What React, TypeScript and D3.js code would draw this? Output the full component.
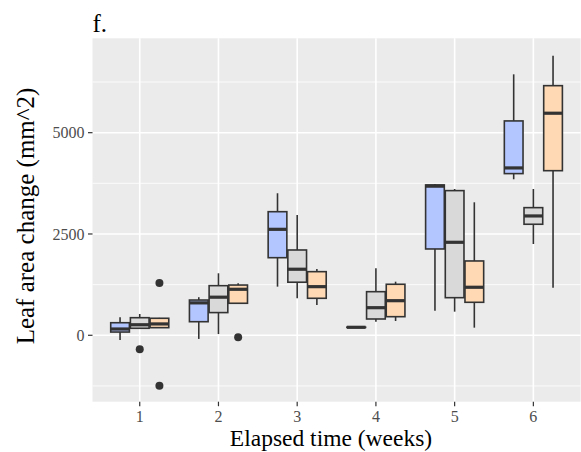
import React from "react";
import * as d3 from "d3";

// weeks on the x axis, three groups dodged inside each week
const weeks = ["1", "2", "3", "4", "5", "6"];
const groups = ["a", "b", "c"];
const groupFill = ["#B3C6FF", "#D9D9D9", "#FFD9B3"];

// [lower whisker, Q1, median, Q3, upper whisker] per week
const statsA = [
  [-115, 80, 155, 310, 445],
  [-90, 335, 800, 870, 940],
  [1200, 1915, 2615, 3050, 3505],
  [190, 195, 197, 200, 205],
  [607, 2130, 3680, 3710, 3735],
  [3850, 3990, 4130, 5290, 6440],
];
const statsB = [
  [173, 173, 260, 434, 526],
  [30, 560, 940, 1225, 1530],
  [915, 1310, 1630, 2105, 2970],
  [336, 402, 681, 1076, 1654],
  [583, 928, 2295, 3570, 3610],
  [2253, 2740, 2945, 3150, 3610],
];
const statsC = [
  [188, 188, 280, 420, 430],
  [790, 790, 1135, 1240, 1285],
  [750, 913, 1200, 1570, 1635],
  [353, 459, 854, 1259, 1323],
  [188, 814, 1185, 1834, 3282],
  [1175, 4062, 5480, 6160, 6900],
];
const outliersA: number[][] = [[], [], [], [], [], []];
const outliersB: number[][] = [[-346], [], [], [], [], []];
const outliersC: number[][] = [[1290, -1244], [-50], [], [], [], []];

const yTicks = [0, 2500, 5000];
const yMinor = [-1250, 1250, 3750, 6250];

const W = 581;
const H = 452;
const left = 92.5;
const top = 38.3;
const right = 580.6;
const bottom = 401.7;

const App = () => {
  const x = d3.scalePoint().domain(weeks).range([left, right]).padding(0.6);
  const step = x.step();
  const xg = d3
    .scaleBand()
    .domain(groups)
    .range([-0.375 * step, 0.375 * step]);
  const y = d3.scaleLinear().domain([-1639, 7329]).range([bottom, top]);

  const allStats = [statsA, statsB, statsC];
  const allOut = [outliersA, outliersB, outliersC];
  const bw = xg.bandwidth() * 0.95;
  const stroke = "#333333";
  const font = "'Liberation Serif', 'Times New Roman', serif";

  return (
    <svg
      width={W}
      height={H}
      style={{ position: "absolute", left: 0, top: 0 }}
      fontFamily={font}
    >
      <rect x={0} y={0} width={W} height={H} fill="white" />
      <rect
        x={left}
        y={top}
        width={right - left}
        height={bottom - top}
        fill="#EBEBEB"
      />
      {yMinor.map(v => (
        <line
          key={"mn" + v}
          x1={left}
          x2={right}
          y1={y(v)}
          y2={y(v)}
          stroke="white"
          strokeWidth={0.8}
        />
      ))}
      {yTicks.map(v => (
        <line
          key={"mj" + v}
          x1={left}
          x2={right}
          y1={y(v)}
          y2={y(v)}
          stroke="white"
          strokeWidth={1.6}
        />
      ))}
      {weeks.map(w => (
        <line
          key={"vx" + w}
          x1={x(w)}
          x2={x(w)}
          y1={top}
          y2={bottom}
          stroke="white"
          strokeWidth={1.6}
        />
      ))}

      {groups.map((g, gi) =>
        weeks.map((w, wi) => {
          const [lo, q1, med, q3, hi] = allStats[gi][wi];
          const cx = (x(w) as number) + (xg(g) as number) + xg.bandwidth() / 2;
          return (
            <g key={g + w}>
              <line
                x1={cx}
                x2={cx}
                y1={y(hi)}
                y2={y(q3)}
                stroke={stroke}
                strokeWidth={1.6}
              />
              <line
                x1={cx}
                x2={cx}
                y1={y(q1)}
                y2={y(lo)}
                stroke={stroke}
                strokeWidth={1.6}
              />
              <rect
                x={cx - bw / 2}
                y={y(q3)}
                width={bw}
                height={Math.max(0, y(q1) - y(q3))}
                fill={groupFill[gi]}
                stroke={stroke}
                strokeWidth={1.6}
              />
              <line
                x1={cx - bw / 2}
                x2={cx + bw / 2}
                y1={y(med)}
                y2={y(med)}
                stroke={stroke}
                strokeWidth={3.2}
              />
              {allOut[gi][wi].map((o, oi) => (
                <circle
                  key={oi}
                  cx={cx}
                  cy={y(o)}
                  r={4}
                  fill={stroke}
                />
              ))}
            </g>
          );
        })
      )}

      {yTicks.map(v => (
        <g key={"yt" + v}>
          <line
            x1={left - 4.5}
            x2={left}
            y1={y(v)}
            y2={y(v)}
            stroke={stroke}
            strokeWidth={1.2}
          />
          <text
            x={left - 8}
            y={y(v)}
            dy="0.35em"
            textAnchor="end"
            fontSize={16}
            fill="#4D4D4D"
          >
            {v}
          </text>
        </g>
      ))}
      {weeks.map(w => (
        <g key={"xt" + w}>
          <line
            x1={x(w)}
            x2={x(w)}
            y1={bottom}
            y2={bottom + 4.5}
            stroke={stroke}
            strokeWidth={1.2}
          />
          <text
            x={x(w)}
            y={bottom + 20}
            textAnchor="middle"
            fontSize={16}
            fill="#4D4D4D"
          >
            {w}
          </text>
        </g>
      ))}

      <text x={left} y={32} fontSize={25} fill="black">
        f.
      </text>
      <text
        x={331}
        y={446}
        textAnchor="middle"
        fontSize={23.5}
        fill="black"
      >
        Elapsed time (weeks)
      </text>
      <text
        transform={`translate(34, 216) rotate(-90)`}
        textAnchor="middle"
        fontSize={25}
        fill="black"
      >
        Leaf area change (mm^2)
      </text>
    </svg>
  );
};

export default App;
